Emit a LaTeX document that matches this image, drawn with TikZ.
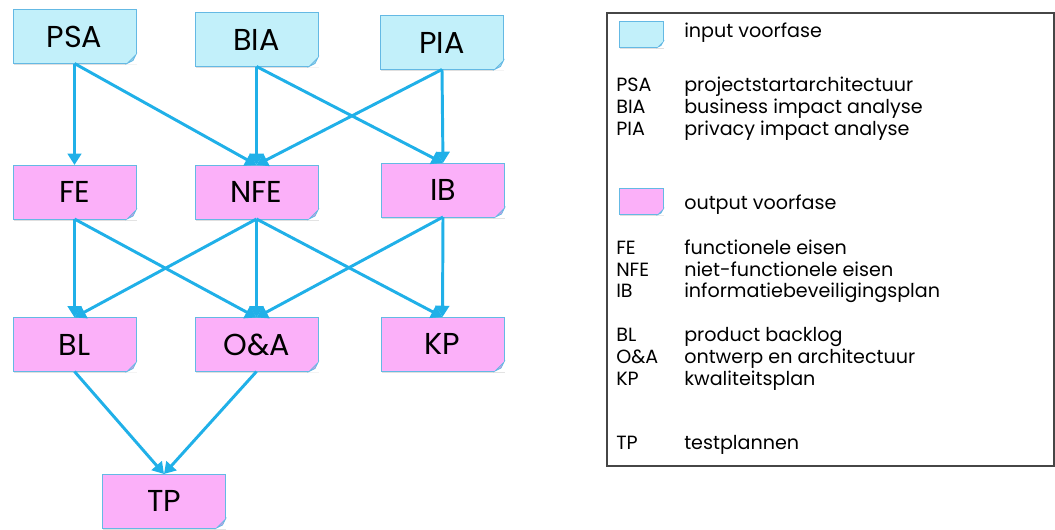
\documentclass[tikz,border=0pt]{standalone}
\usepackage{fontspec}
\setmainfont{Poppins}
\usetikzlibrary{arrows.meta, positioning, shadows}
\definecolor{InputFill}{RGB}{194, 240, 250}
\definecolor{OutputFill}{RGB}{251, 176, 249}
\definecolor{BoxLine}{RGB}{100, 185, 228}
\definecolor{FoldIn}{RGB}{150, 210, 235}
\definecolor{FoldOut}{RGB}{215, 150, 225}
\definecolor{FlowArrow}{RGB}{32, 176, 232}
\definecolor{LegendLine}{RGB}{70, 70, 70}

\begin{document}
\begin{tikzpicture}[x=0.025cm, y=-0.025cm]
        \tikzset{
            phase_box/.style={rectangle, draw=BoxLine, line width=0.6pt, outer sep=0pt, minimum width=3.075cm, minimum height=1.35cm, font=\fontsize{21.5}{24}\selectfont, drop shadow={shadow xshift=0.4pt, shadow yshift=-1.2pt, opacity=0.25}},
            input_box/.style={phase_box, fill=InputFill},
            output_box/.style={phase_box, fill=OutputFill},
            swatch/.style={phase_box, minimum width=1.1cm, minimum height=0.65cm},
            flow/.style={-{Triangle[width=9.5pt, length=8pt]}, FlowArrow, line width=2.1pt},
            legend_text/.style={anchor=base west, inner sep=0pt, font=\fontsize{13.6}{15}\selectfont}
        }
        \useasboundingbox (0,0) rectangle (1055,530);

        \node[input_box] (psa) at (74.5,36.5) {PSA};
        \node[input_box] (bia) at (256.5,39.5) {BIA};
        \node[input_box] (pia) at (442,42.5) {PIA};

        \node[output_box] (fe) at (74.5,192) {FE};
        \node[output_box] (nfe) at (256.5,192) {NFE};
        \node[output_box] (ib) at (443,190) {IB};

        \node[output_box] (bl) at (74.5,344.5) {BL};
        \node[output_box] (oa) at (256.5,344.5) {O\&A};
        \node[output_box] (kp) at (442.5,344) {KP};

        \node[output_box] (tp) at (164,501) {TP};

        \foreach \n/\c in {psa/FoldIn, bia/FoldIn, pia/FoldIn, fe/FoldOut, nfe/FoldOut, ib/FoldOut, bl/FoldOut, oa/FoldOut, kp/FoldOut, tp/FoldOut}{
            \fill[white] (\n.south east) ++(1,1) -- ++(-11,0) -- ++(11,-11) -- cycle;
            \filldraw[fill=\c, draw=BoxLine, line width=0.5pt] (\n.south east) ++(-9,0) -- ++(9,-9) -- ++(-3,6) -- cycle;
        }

        \foreach \a/\b in {psa/fe, psa/nfe, bia/nfe, bia/ib, pia/nfe, pia/ib, fe/bl, fe/oa, nfe/bl, nfe/oa, nfe/kp, ib/oa, ib/kp, bl/tp, oa/tp}
            \draw[flow] (\a.south) -- (\b.north);

        % legend
        \draw[LegendLine, line width=0.8pt, drop shadow={shadow xshift=0.5pt, shadow yshift=-0.8pt, opacity=0.3}, fill=white] (607,13) rectangle (1054,466);

        \node[swatch, fill=InputFill] (sw_in) at (641,34) {};
        \node[swatch, fill=OutputFill] (sw_out) at (641,201.5) {};
        \foreach \n/\c in {sw_in/FoldIn, sw_out/FoldOut}{
            \fill[white] (\n.south east) ++(1,1) -- ++(-7,0) -- ++(7,-7) -- cycle;
            \filldraw[fill=\c, draw=BoxLine, line width=0.5pt] (\n.south east) ++(-5,0) -- ++(5,-5) -- ++(-2,3.5) -- cycle;
        }
        \node[legend_text] (txt_in) at (684,38) {input voorfase};
        \node[legend_text] (txt_out) at (684,210) {output voorfase};

        \foreach \k/\d/\y in {PSA/projectstartarchitectuur/92, BIA/business impact analyse/114, PIA/privacy impact analyse/136, FE/functionele eisen/255, NFE/niet-functionele eisen/277, IB/informatiebeveiligingsplan/298, BL/product backlog/342, O\&A/ontwerp en architectuur/364, KP/kwaliteitsplan/386, TP/testplannen/450}{
            \node[legend_text] at (616,\y) {\k};
            \node[legend_text] at (684,\y) {\d};
        }
    \end{tikzpicture}
\end{document}
